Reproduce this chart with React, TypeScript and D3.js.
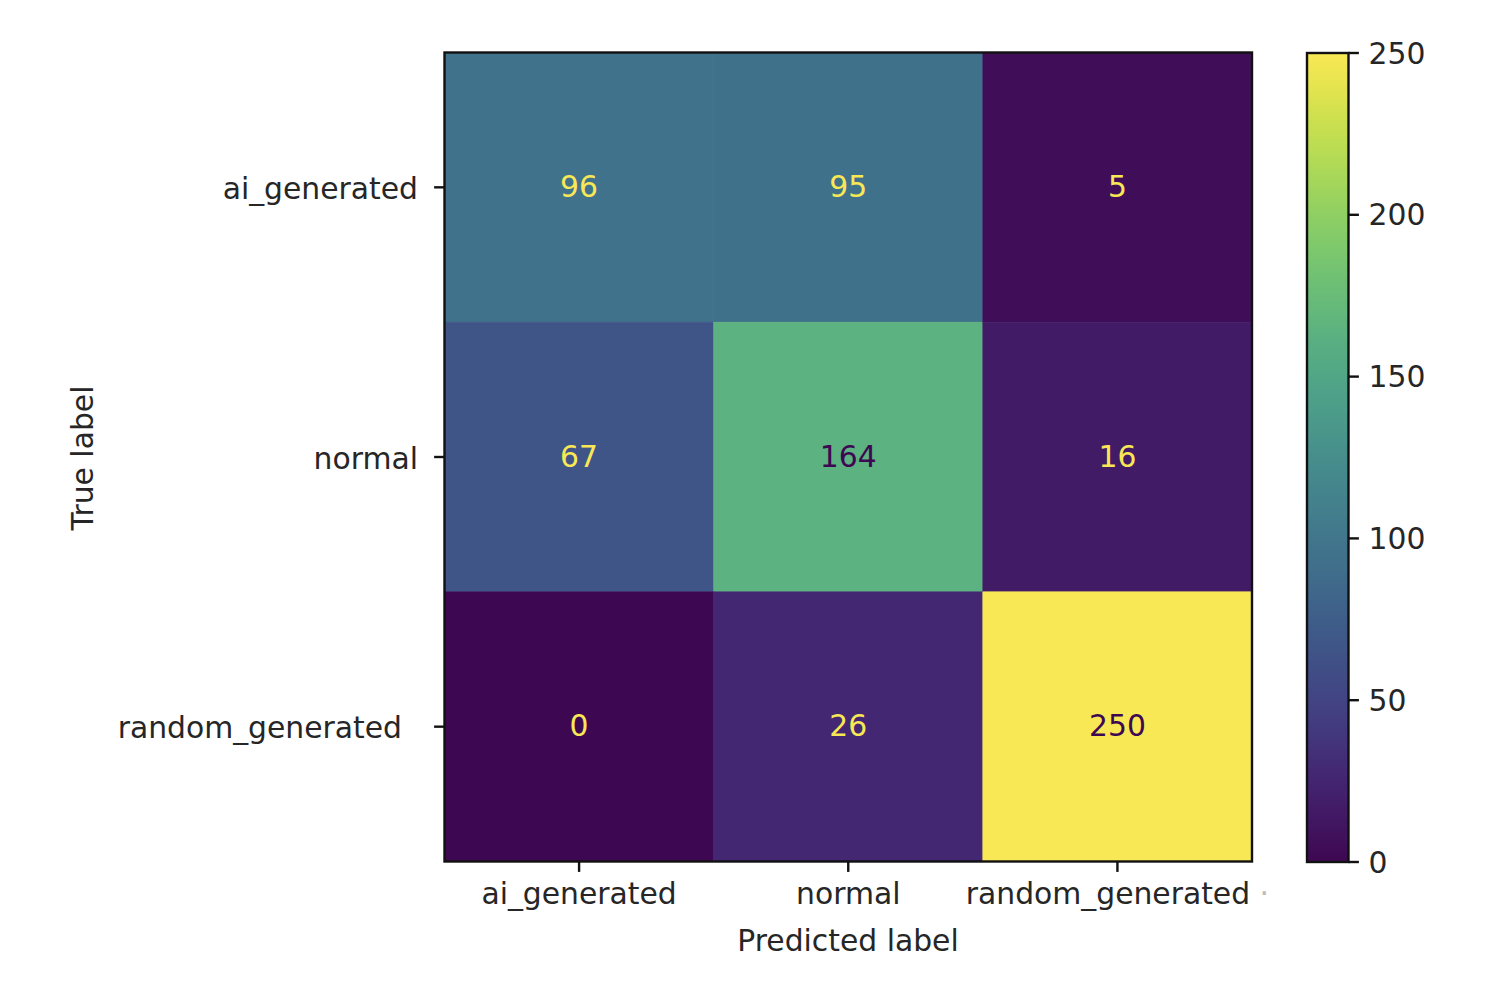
import React from "react";
import * as d3 from "d3";

const categories = ["ai_generated", "normal", "random_generated"];
const matrix = [
  [96, 95, 5],
  [67, 164, 16],
  [0, 26, 250],
];
const colorTicks = [0, 50, 100, 150, 200, 250];
const vmin = 0;
const vmax = 250;

const W = 1492;
const H = 1001;
const FONT = "'DejaVu Sans', sans-serif";
const FS = 29.8;

// Reference screenshot shows sRGB values re-expressed in a wider-gamut (P3) space.
function toLin(v: number) {
  const c = v / 255;
  return c <= 0.04045 ? c / 12.92 : Math.pow((c + 0.055) / 1.055, 2.4);
}
function toEnc(l: number) {
  const c = l <= 0.0031308 ? 12.92 * l : 1.055 * Math.pow(l, 1 / 2.4) - 0.055;
  return Math.max(0, Math.min(255, Math.round(c * 255)));
}
function adj(col: string) {
  const c = d3.rgb(col);
  const r = toLin(c.r), g = toLin(c.g), b = toLin(c.b);
  const R = 0.8225 * r + 0.1774 * g;
  const G = 0.0332 * r + 0.9669 * g;
  const B = 0.0171 * r + 0.0724 * g + 0.9108 * b;
  return `rgb(${toEnc(R)},${toEnc(G)},${toEnc(B)})`;
}

export default function App() {
  const left = 444.5;
  const right = 1252;
  const top = 52.5;
  const bottom = 861.5;

  const x = d3.scaleBand<number>().domain([0, 1, 2]).range([left, right]);
  const y = d3.scaleBand<number>().domain([0, 1, 2]).range([top, bottom]);
  const color = d3.scaleSequential(d3.interpolateViridis).domain([vmin, vmax]);

  const cbX0 = 1307;
  const cbX1 = 1348.5;
  const cbY = d3.scaleLinear().domain([vmin, vmax]).range([862, 53]);

  const stops = d3.range(0, 1.0001, 0.04);
  const thresh = (vmin + vmax) / 2;

  const cells = [] as React.ReactElement[];
  matrix.forEach((row, i) =>
    row.forEach((v, j) => {
      cells.push(
        <rect
          key={`c${i}-${j}`}
          x={x(j)}
          y={y(i)}
          width={x.bandwidth()}
          height={y.bandwidth()}
          fill={adj(color(v))}
          stroke={adj(color(v))}
          strokeWidth={0.6}
        />
      );
    })
  );
  const labels = [] as React.ReactElement[];
  matrix.forEach((row, i) =>
    row.forEach((v, j) => {
      labels.push(
        <text
          key={`t${i}-${j}`}
          x={(x(j) as number) + x.bandwidth() / 2}
          y={(y(i) as number) + y.bandwidth() / 2 - 1}
          textAnchor="middle"
          dominantBaseline="central"
          fontSize={FS}
          fill={v > thresh ? adj(d3.interpolateViridis(0)) : adj(d3.interpolateViridis(1))}
        >
          {v}
        </text>
      );
    })
  );

  return (
    <svg
      width={W}
      height={H}
      style={{ position: "absolute", left: 0, top: 0, background: "#fff" }}
      fontFamily={FONT}
    >
      <defs>
        <linearGradient id="cbgrad" x1="0" y1="1" x2="0" y2="0">
          {stops.map((t) => (
            <stop key={t} offset={`${t * 100}%`} stopColor={adj(d3.interpolateViridis(t))} />
          ))}
        </linearGradient>
      </defs>
      {cells}
      {labels}
      <rect
        x={left}
        y={top}
        width={right - left}
        height={bottom - top}
        fill="none"
        stroke="#111"
        strokeWidth={2.4}
      />
      {/* x ticks */}
      {categories.map((c, j) => {
        const cx = (x(j) as number) + x.bandwidth() / 2;
        return (
          <g key={`xt${j}`}>
            <line x1={cx} x2={cx} y1={bottom} y2={bottom + 10.4} stroke="#111" strokeWidth={2.4} />
            <text
              x={cx}
              y={bottom + 20}
              textAnchor="middle"
              dominantBaseline="hanging"
              fontSize={FS}
              fill="#262626"
            >
              {c}
              {j === 2 ? <tspan fill="#bbb">{" \u00b7"}</tspan> : null}
            </text>
          </g>
        );
      })}
      {/* y ticks */}
      {categories.map((c, i) => {
        const cy = (y(i) as number) + y.bandwidth() / 2;
        return (
          <g key={`yt${i}`}>
            <line x1={left} x2={left - 10.4} y1={cy} y2={cy} stroke="#111" strokeWidth={2.4} />
            <text
              x={i === 2 ? 402 : 418}
              y={cy + 1}
              textAnchor="end"
              dominantBaseline="central"
              fontSize={FS}
              fill="#262626"
            >
              {c}
            </text>
          </g>
        );
      })}
      <text x={848} y={940} textAnchor="middle" dominantBaseline="central" fontSize={FS} fill="#262626">
        Predicted label
      </text>
      <text
        transform={`translate(82,458) rotate(-90)`}
        textAnchor="middle"
        dominantBaseline="central"
        fontSize={FS}
        fill="#262626"
      >
        True label
      </text>
      {/* colorbar */}
      <rect
        x={cbX0}
        y={cbY(vmax)}
        width={cbX1 - cbX0}
        height={cbY(vmin) - cbY(vmax)}
        fill="url(#cbgrad)"
        stroke="#111"
        strokeWidth={2.4}
      />
      {colorTicks.map((t) => (
        <g key={`cb${t}`}>
          <line x1={cbX1} x2={cbX1 + 10.4} y1={cbY(t)} y2={cbY(t)} stroke="#111" strokeWidth={2.4} />
          <text
            x={cbX1 + 20}
            y={cbY(t)}
            dominantBaseline="central"
            fontSize={FS}
            fill="#262626"
          >
            {t}
          </text>
        </g>
      ))}
    </svg>
  );
}
